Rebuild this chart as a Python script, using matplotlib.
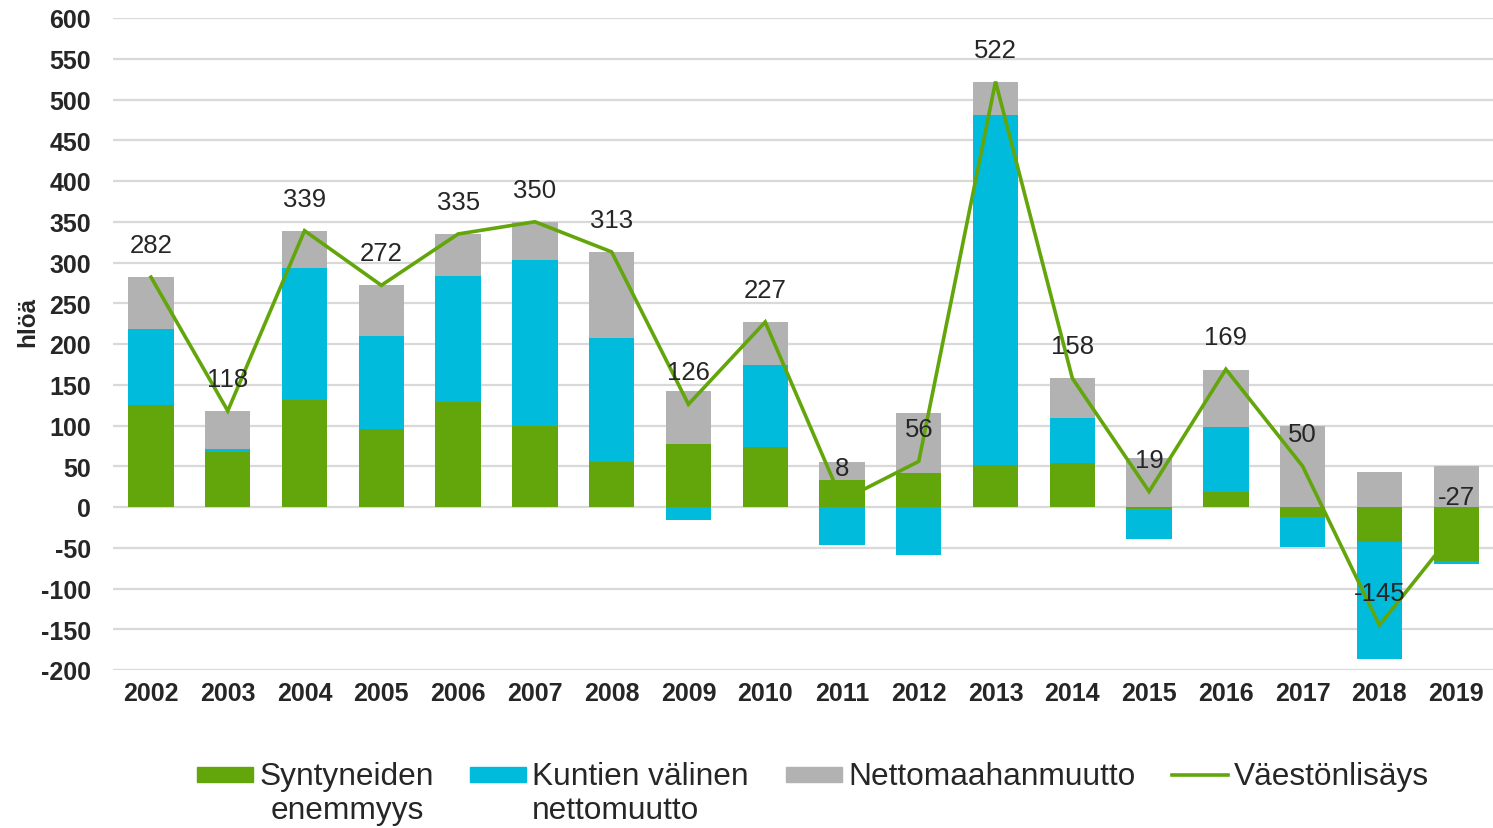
import matplotlib
matplotlib.use("Agg")
import matplotlib.pyplot as plt
from matplotlib.patches import Rectangle
from matplotlib.lines import Line2D
import numpy as np

plt.rcParams["axes.unicode_minus"] = False

years = ["2002", "2003", "2004", "2005", "2006", "2007", "2008", "2009", "2010",
         "2011", "2012", "2013", "2014", "2015", "2016", "2017", "2018", "2019"]
syntyneiden = [125, 68, 131, 96, 129, 100, 55, 77, 74, 33, 42, 52, 54, -2, 18, -12, -43, -66]
kuntien = [93, 3, 162, 114, 154, 203, 152, -16, 100, -47, -59, 429, 55, -37, 80, -37, -144, -4]
netto = [64, 47, 46, 62, 52, 47, 106, 65, 53, 22, 73, 41, 49, 60, 70, 100, 43, 50]
vaesto = [282, 118, 339, 272, 335, 350, 313, 126, 227, 8, 56, 522, 158, 19, 169, 50, -145, -27]

series_labels = [["Syntyneiden", "enemmyys"], ["Kuntien välinen", "nettomuutto"],
                 ["Nettomaahanmuutto"], ["Väestönlisäys"]]
yticks = list(range(-200, 601, 50))

GREEN = "#63a60b"
BLUE = "#00bbdb"
GRAY = "#b2b2b2"
TXT = "#262626"
FONT = ["Liberation Sans", "DejaVu Sans"]

W, H = 1493, 829
fig = plt.figure(figsize=(W / 100, H / 100), dpi=100)
ax = fig.add_axes([112.6 / W, 1 - 671 / H, 1382 / W, (671 - 19) / H])

x = np.arange(len(years))
pos_bottom = np.zeros(len(years))
neg_bottom = np.zeros(len(years))
for vals, col in [(syntyneiden, GREEN), (kuntien, BLUE), (netto, GRAY)]:
    v = np.array(vals, dtype=float)
    bottoms = np.where(v >= 0, pos_bottom, neg_bottom)
    ax.bar(x, v, width=0.59, bottom=bottoms, color=col, zorder=2)
    pos_bottom = pos_bottom + np.where(v >= 0, v, 0)
    neg_bottom = neg_bottom + np.where(v < 0, v, 0)

ax.plot(x, vaesto, color=GREEN, lw=2.6, zorder=3, solid_joinstyle="miter")
for xi, v in zip(x, vaesto):
    ax.annotate(str(v), (xi, v), xytext=(0, 18), textcoords="offset points",
                ha="center", va="baseline", fontsize=18.5, color=TXT,
                family=FONT, zorder=4)

ax.set_xlim(-0.5, len(years) - 0.5)
ax.set_ylim(-200, 600)
ax.set_yticks(yticks)
ax.set_xticks(x)
ax.set_xticklabels(years)
ax.grid(axis="y", color="#d9d9d9", lw=1.6, zorder=0)
ax.set_axisbelow(True)
for s in ax.spines.values():
    s.set_visible(False)
ax.tick_params(length=0)
for lab in ax.get_yticklabels() + ax.get_xticklabels():
    lab.set_fontfamily(FONT)
    lab.set_fontweight("bold")
    lab.set_fontsize(18)
    lab.set_color(TXT)
ax.tick_params(axis="y", pad=15.5)
ax.tick_params(axis="x", pad=8)
ax.set_ylabel("hlöä", fontsize=17.5, fontweight="bold", color=TXT, family=FONT)
ax.yaxis.set_label_coords(-0.053, 0.535)

# legend (manual, handles aligned with first text line)
base1, base2 = 785, 819
LFS = 22.8
entries = [(197, 260, "patch", GREEN, series_labels[0], "center"),
           (470, 532, "patch", BLUE, series_labels[1], "left"),
           (786, 848, "patch", GRAY, series_labels[2], "left"),
           (1172, 1234, "line", GREEN, series_labels[3], "left")]
for hx, tx, kind, col, lines, align in entries:
    if kind == "patch":
        fig.patches.append(Rectangle((hx / W, 1 - 783 / H), 56 / W, 15 / H,
                                     transform=fig.transFigure, color=col))
    else:
        fig.lines.append(Line2D([hx / W, (hx + 56) / W], [1 - 775.5 / H, 1 - 775.5 / H],
                                transform=fig.transFigure, color=col, lw=2.6))
    t1 = fig.text(tx / W, 1 - base1 / H, lines[0], ha="left", va="baseline",
                  fontsize=LFS, color=TXT, family=FONT)
    if len(lines) > 1:
        if align == "center":
            fig.canvas.draw()
            bb = t1.get_window_extent()
            cx = (bb.x0 + bb.x1) / 2 / W
            fig.text(cx, 1 - base2 / H, lines[1], ha="center", va="baseline",
                     fontsize=LFS, color=TXT, family=FONT)
        else:
            fig.text(tx / W, 1 - base2 / H, lines[1], ha="left", va="baseline",
                     fontsize=LFS, color=TXT, family=FONT)

fig.savefig("out.png", dpi=100)
